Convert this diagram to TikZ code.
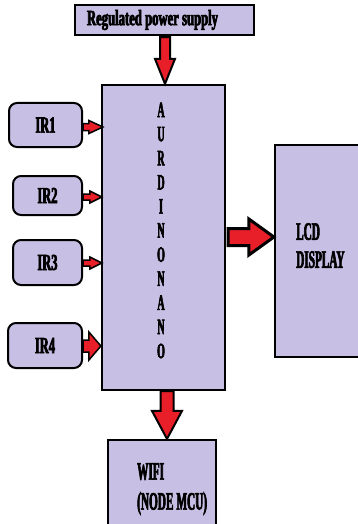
\documentclass[tikz,border=0pt]{standalone}
\usepackage{fontspec}
\newfontfamily\cond[FakeStretch=0.45, BoldFeatures={FakeBold=2.5}]{Liberation Serif}
\usetikzlibrary{calc}
\definecolor{lav}{RGB}{200,192,228}
\definecolor{ared}{RGB}{232,30,40}
% block arrow: [outline width]{start}{end}{shaft half}{head half}{head length}
\newcommand\blockarrow[6][1.5pt]{%
  \coordinate (bah) at ($(#3)!#6!(#2)$);
  \draw[line width=#1, fill=ared, line join=miter]
    ($(#2)!#4!90:(#3)$) -- ($(bah)!#4!90:(#3)$) -- ($(bah)!#5!90:(#3)$) -- (#3)
    -- ($(bah)!#5!-90:(#3)$) -- ($(bah)!#4!-90:(#3)$) -- ($(#2)!#4!-90:(#3)$) -- cycle;}
\begin{document}
\begin{tikzpicture}[x=1pt,y=-1pt,
  box/.style={draw, fill=lav, line width=2.2pt, inner sep=0pt},
  irbox/.style={box, rounded corners=8pt, line width=2pt},
  lbl/.style={font=\cond\bfseries\fontsize{25}{28}\selectfont, inner sep=0pt, anchor=north west, align=left}]
\useasboundingbox[fill=white] (0,0) rectangle (357,524);
% boxes
\node[box, minimum height=30, text width=155pt, inner xsep=12pt, align=left,
      font=\cond\bfseries\fontsize{22}{22}\selectfont] (psu) at (164.5,20)
      {\scalebox{1.28}[1]{Regulated\hspace{2.5pt}power\hspace{2.5pt}supply}};
\node[box, minimum width=123, minimum height=305] (main) at (163.5,237.5) {};
\node[font=\cond\bfseries\fontsize{22}{24.1}\selectfont, align=center, inner sep=0pt] (nano) at (161,230.5)
  {A\\U\\R\\D\\I\\N\\O\\N\\A\\N\\O};
\node[box, minimum width=87, minimum height=212] (lcd) at (318.5,251) {};
\node[lbl] (lcdtext) at (296,223) {LCD\\DISPLAY};
\node[box, minimum width=108, minimum height=90] (wifi) at (162,485) {};
\node[lbl, font=\cond\bfseries\fontsize{25}{30}\selectfont] (wifitext) at (137,463) {WIFI\\(NODE\hspace{3pt}MCU)};
\tikzset{irtext/.style={font=\cond\bfseries\fontsize{23}{23}\selectfont}}
\node[irbox, minimum width=73, minimum height=44, irtext] (ir1) at (45.5,125) {\scalebox{1.2}[1]{IR1}};
\node[irbox, minimum width=69, minimum height=39, irtext] (ir2) at (47.5,195.5) {\scalebox{1.2}[1]{IR2}};
\node[irbox, minimum width=69, minimum height=45, irtext] (ir3) at (47.5,262.5) {\scalebox{1.2}[1]{IR3}};
\node[irbox, minimum width=74, minimum height=45, irtext] (ir4) at (45,345.5) {\scalebox{1.2}[1]{IR4}};
% arrow end points
\coordinate (ps) at ($(psu.south -| main.north)+(1.5,1)$);
\coordinate (pe) at ($(main.north)+(1.5,0)$);
\coordinate (i1s) at ($(ir1.east)+(0,2)$);   \coordinate (i1e) at ($(ir1.east -| main.west)+(2,2)$);
\coordinate (i2s) at ($(ir2.east)+(0,1.5)$); \coordinate (i2e) at ($(ir2.east -| main.west)+(1,1.5)$);
\coordinate (i3s) at ($(ir3.east)+(0,0.5)$); \coordinate (i3e) at ($(ir3.east -| main.west)+(1,0.5)$);
\coordinate (i4s) at ($(ir4.east)+(0,0.5)$); \coordinate (i4e) at ($(ir4.east -| main.west)+(0,0.5)$);
\coordinate (lin) at ($(lcd.west)+(0,-14)$);
\coordinate (ls) at ($(main.east |- lin)+(2,0)$);
\coordinate (ws) at ($(main.south)+(3.5,0)$);
\coordinate (we) at ($(wifi.north -| main.south)+(3.5,0)$);
% arrows
\blockarrow[2pt]{ps}{pe}{5pt}{10pt}{25pt}
\blockarrow[1.5pt]{i1s}{i1e}{3.5pt}{6.5pt}{14pt}
\blockarrow[1.5pt]{i2s}{i2e}{3pt}{6pt}{12pt}
\blockarrow[1.5pt]{i3s}{i3e}{3pt}{6pt}{12pt}
\blockarrow[1.5pt]{i4s}{i4e}{6pt}{14pt}{12pt}
\blockarrow[3pt]{ls}{lin}{8.5pt}{18pt}{25pt}
\blockarrow[2pt]{ws}{we}{6.5pt}{15pt}{28pt}
\end{tikzpicture}
\end{document}
